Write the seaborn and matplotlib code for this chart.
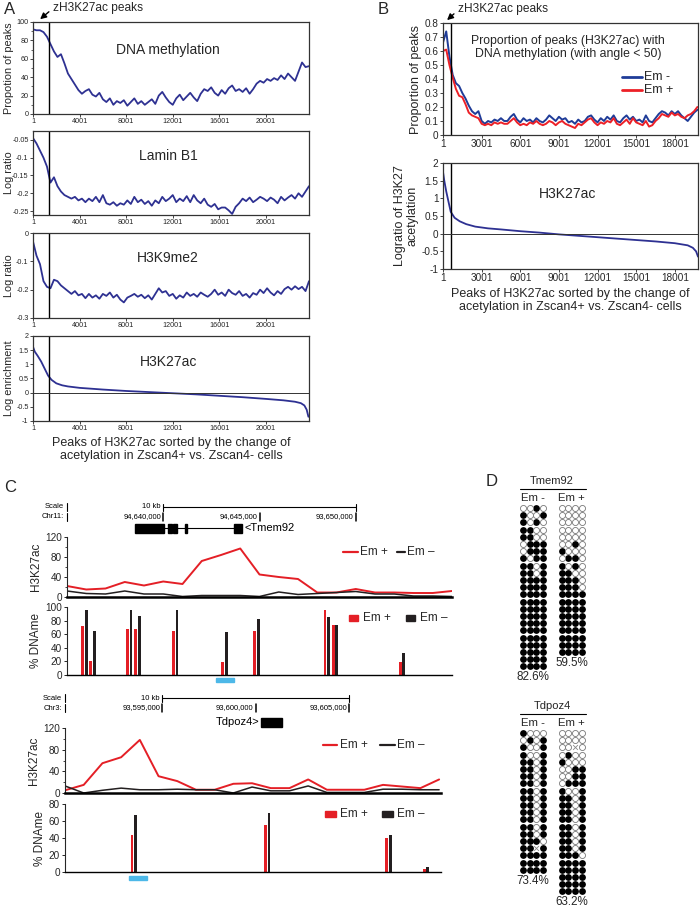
import numpy as np
import matplotlib
matplotlib.use("Agg")
import matplotlib.pyplot as plt
import matplotlib.transforms as mtransforms
from matplotlib.patches import Rectangle
import seaborn as sns

# ---------------- data: panel A (peaks ranked by H3K27ac change) ----------------
peaks_a = np.arange(1, 23702, 300)          # 80 ranks
dna_meth = [92, 91, 91, 89, 84, 76, 68, 62, 65, 55,
            44, 38, 32, 26, 22, 25, 27, 21, 19, 23,
            16, 13, 17, 10, 14, 12, 15, 9, 13, 17,
            11, 14, 10, 13, 16, 11, 20, 24, 18, 13,
            10, 17, 21, 15, 19, 23, 18, 14, 22, 27,
            25, 29, 23, 20, 26, 22, 28, 31, 25, 27,
            24, 28, 22, 27, 33, 36, 34, 38, 36, 39,
            37, 42, 38, 44, 40, 36, 46, 56, 51, 52]
lamin_b1 = [-0.045, -0.06, -0.08, -0.10, -0.125, -0.17, -0.155, -0.18, -0.195, -0.205,
            -0.21, -0.215, -0.21, -0.22, -0.215, -0.225, -0.215, -0.222, -0.21, -0.225,
            -0.205, -0.228, -0.232, -0.225, -0.235, -0.228, -0.232, -0.22, -0.23, -0.21,
            -0.225, -0.218, -0.23, -0.222, -0.235, -0.22, -0.228, -0.21, -0.222, -0.215,
            -0.205, -0.225, -0.215, -0.222, -0.208, -0.225, -0.205, -0.22, -0.228, -0.215,
            -0.232, -0.238, -0.23, -0.245, -0.24, -0.24, -0.248, -0.258, -0.238, -0.228,
            -0.215, -0.222, -0.212, -0.225, -0.218, -0.21, -0.215, -0.222, -0.212, -0.218,
            -0.228, -0.21, -0.22, -0.212, -0.205, -0.215, -0.2, -0.21, -0.195, -0.18]
h3k9me2 = [-0.03, -0.08, -0.11, -0.17, -0.19, -0.195, -0.165, -0.17, -0.185, -0.195,
           -0.205, -0.215, -0.205, -0.22, -0.215, -0.23, -0.215, -0.228, -0.22, -0.232,
           -0.215, -0.222, -0.21, -0.228, -0.218, -0.235, -0.245, -0.228, -0.222, -0.215,
           -0.225, -0.218, -0.23, -0.22, -0.235, -0.215, -0.195, -0.21, -0.205, -0.222,
           -0.215, -0.232, -0.22, -0.228, -0.21, -0.222, -0.215, -0.225, -0.21, -0.218,
           -0.225, -0.215, -0.2, -0.218, -0.21, -0.222, -0.2, -0.212, -0.218, -0.205,
           -0.222, -0.215, -0.228, -0.212, -0.218, -0.2, -0.212, -0.195, -0.21, -0.22,
           -0.205, -0.215, -0.198, -0.19, -0.2, -0.188, -0.198, -0.19, -0.205, -0.17]
a_sorted_rank = [1, 150, 400, 700, 1000, 1300, 1600, 2000, 2500, 3000, 4000, 5000, 6000,
                 8000, 10000, 12000, 14000, 16000, 18000, 20000, 21500, 22500, 23000,
                 23300, 23500, 23650]
a_sorted_ac = [1.62, 1.45, 1.3, 1.1, 0.85, 0.6, 0.45, 0.33, 0.26, 0.22, 0.17, 0.14, 0.11,
               0.06, 0.02, -0.02, -0.06, -0.11, -0.16, -0.22, -0.27, -0.32, -0.37,
               -0.45, -0.6, -0.85]
a_xticks = [1, 4001, 8001, 12001, 16001, 20001]
a_cut = 1360

# ---------------- data: panel B ----------------
peaks_b = np.arange(1, 19752, 250)          # 80 ranks
b_em_minus = [0.66, 0.74, 0.56, 0.43, 0.37, 0.35, 0.30, 0.26, 0.21, 0.17,
              0.15, 0.17, 0.10, 0.08, 0.10, 0.09, 0.11, 0.10, 0.12, 0.10,
              0.10, 0.13, 0.15, 0.11, 0.09, 0.12, 0.10, 0.11, 0.09, 0.12,
              0.10, 0.09, 0.11, 0.14, 0.12, 0.10, 0.13, 0.11, 0.12, 0.09,
              0.10, 0.08, 0.11, 0.09, 0.10, 0.13, 0.14, 0.11, 0.09, 0.12,
              0.10, 0.13, 0.11, 0.14, 0.10, 0.09, 0.12, 0.14, 0.11, 0.13,
              0.10, 0.11, 0.09, 0.14, 0.10, 0.09, 0.12, 0.15, 0.17, 0.16,
              0.14, 0.17, 0.15, 0.17, 0.14, 0.12, 0.10, 0.13, 0.16, 0.18]
b_em_plus = [0.60, 0.61, 0.50, 0.41, 0.33, 0.28, 0.27, 0.22, 0.16, 0.14,
             0.13, 0.12, 0.08, 0.07, 0.08, 0.07, 0.09, 0.08, 0.09, 0.08,
             0.08, 0.10, 0.12, 0.09, 0.07, 0.08, 0.07, 0.09, 0.08, 0.10,
             0.08, 0.07, 0.08, 0.10, 0.09, 0.07, 0.09, 0.10, 0.08, 0.07,
             0.06, 0.05, 0.08, 0.07, 0.09, 0.11, 0.12, 0.09, 0.07, 0.09,
             0.08, 0.10, 0.09, 0.12, 0.08, 0.07, 0.09, 0.11, 0.08, 0.12,
             0.09, 0.08, 0.07, 0.10, 0.06, 0.07, 0.10, 0.12, 0.15, 0.14,
             0.13, 0.16, 0.14, 0.15, 0.13, 0.12, 0.14, 0.15, 0.17, 0.20]
b_sorted_rank = [1, 100, 250, 400, 600, 900, 1300, 1800, 2500, 3500, 4500, 6000, 7500,
                 9000, 10500, 12000, 13500, 15000, 16500, 18000, 19000, 19400, 19650, 19800]
b_sorted_ac = [1.75, 1.5, 1.2, 0.95, 0.62, 0.45, 0.35, 0.27, 0.2, 0.15, 0.12, 0.07, 0.03,
               -0.02, -0.06, -0.1, -0.14, -0.18, -0.22, -0.27, -0.33, -0.4, -0.5, -0.65]
b_xticks = [1, 3001, 6001, 9001, 12001, 15001, 18001]
b_cut = 600

# ---------------- data: panel C (genome tracks) ----------------
c1_window = (94635000, 94655000)
c1_ac_em_plus = [22, 15, 17, 30, 23, 31, 26, 72, 84, 97, 45, 40, 36, 9, 9, 16, 9, 9, 8, 8, 12]
c1_ac_em_minus = [12, 7, 6, 12, 6, 6, 1, 3, 3, 3, 1, 10, 5, 7, 9, 11, 6, 6, 2, 2, 1]
c1_cpg = [94635910, 94636320, 94638230, 94638670, 94640620, 94643180, 94644830,
          94648500, 94648920, 94652400]
c1_me_em_plus = [72, 21, 67, 68, 64, 19, 64, 95, 73, 19]
c1_me_em_minus = [95, 65, 95, 87, 95, 63, 82, 86, 73, 33]
c1_amplicon = (94642740, 94643680)
c1_scale = [94640000, 94645000, 94650000]
c1_scale_labels = ["94,640,000", "94,645,000", "93,650,000"]
tmem92_exons = [(94638530, 94640040), (94640250, 94640450), (94640500, 94640710),
                (94641150, 94641220), (94643680, 94644090)]
tmem92_span = (94640040, 94643680)

c2_window = (93589800, 93609900)
c2_ac_em_plus = [5, 15, 55, 66, 98, 31, 22, 6, 6, 17, 18, 9, 9, 25, 6, 6, 6, 15, 12, 9, 25]
c2_ac_em_minus = [13, 0, 5, 9, 6, 6, 7, 6, 6, 0, 11, 4, 4, 13, 1, 1, 1, 7, 7, 6, 6]
c2_cpg = [93593480, 93600610, 93607090, 93609100]
c2_me_em_plus = [43, 55, 40, 3]
c2_me_em_minus = [67, 69, 43, 6]
c2_amplicon = (93593220, 93594190)
c2_scale = [93595000, 93600000, 93605000]
c2_scale_labels = ["93,595,000", "93,600,000", "93,605,000"]
tdpoz4_exons = [(93600280, 93601400)]

# ---------------- data: panel D (bisulfite clones, 1 = methylated, x = missing) ----------------
tmem92_em_minus = ["0010", "1001", "1010", "1100", "1100", "0111", "0111", "1011",
                   "1101", "1101", "1111", "1111", "1111", "1111", "1111", "1111",
                   "1111", "1111", "1111", "1111", "1111", "1111", "1111"]
tmem92_em_plus = ["0000", "0000", "0000", "0000", "0000", "0010", "1000", "0110",
                  "1010", "1100", "1110", "1110", "1111", "1111", "1111", "1111",
                  "1111", "1111", "1111", "1111", "1111"]
tdpoz4_em_minus = ["1000", "0101", "1001", "1001", "1101", "1101", "1101", "1101",
                   "1101", "1101", "1101", "1101", "1101", "1101", "1101", "1110",
                   "11x1", "1111", "1111", "1111"]
tdpoz4_em_plus = ["0000", "0000", "00x0", "0100", "1000", "0011", "0011", "0111",
                  "1001", "1101", "1101", "1101", "1101", "1101", "1101", "1101",
                  "1101", "1110", "1111", "1111", "1111", "1111", "1111"]
tmem92_pct = ["82.6%", "59.5%"]
tdpoz4_pct = ["73.4%", "63.2%"]

# ---------------- style ----------------
sns.set_theme(style="ticks")
plt.rcParams["font.family"] = ["Liberation Sans", "DejaVu Sans"]
plt.rcParams["axes.unicode_minus"] = False

NAVY = "#2e3192"
BBLUE = "#1f3c98"
BRED = "#ec2027"
RED = "#e41f26"
BLK = "#231f20"
SKY = "#4db8e8"

W, H = 700, 910
fig = plt.figure(figsize=(W / 100, H / 100), dpi=100)


def box(l, t, r, b):
    return fig.add_axes([l / W, 1 - b / H, (r - l) / W, (b - t) / H])


ov = fig.add_axes([0, 0, 1, 1], zorder=10)
ov.axis("off")


def lab(v):
    return f"{v:g}"


def rank_axes(ax, ylim, yticks, ylabel, xmax, xticks, cut, fs_tick, fs_lab, zero=False):
    ax.set_xlim(1, xmax)
    ax.set_ylim(*ylim)
    ax.set_yticks(yticks)
    ax.set_yticklabels([lab(t) for t in yticks])
    ax.set_xticks(xticks)
    ax.set_xticklabels([str(t) for t in xticks])
    ax.axvline(cut, color="black", lw=1.0)
    if zero:
        ax.axhline(0, color="#333333", lw=0.7)
    ax.set_ylabel(ylabel, fontsize=fs_lab, labelpad=2)
    ax.set_xlabel("")
    ax.tick_params(labelsize=fs_tick, length=2, width=0.6, pad=1.2)
    for s in ax.spines.values():
        s.set_linewidth(0.9)
        s.set_color("#333333")


# ---------------- panel A ----------------
a_specs = [
    ((22, 114), peaks_a, dna_meth, (0, 100), [0, 20, 40, 60, 80, 100], "Propotion of peaks", "DNA methylation", False),
    ((131, 215), peaks_a, lamin_b1, (-0.261, -0.025), [-0.25, -0.2, -0.15, -0.1, -0.05], "Log ratio", "Lamin B1", False),
    ((233, 318), peaks_a, h3k9me2, (-0.3, 0), [-0.3, -0.2, -0.1, 0], "Log ratio", "H3K9me2", False),
    ((336, 421), a_sorted_rank, a_sorted_ac, (-1, 2), [-1, -0.5, 0, 0.5, 1, 1.5, 2], "Log enrichment", "H3K27ac", True),
]
for (top, bot), xs, ys, ylim, yt, ylabel, title, zero in a_specs:
    ax = box(33, top, 309, bot)
    sns.lineplot(x=xs, y=ys, ax=ax, color=NAVY, lw=1.3)
    rank_axes(ax, ylim, yt, ylabel, 23700, a_xticks, a_cut, 5.2, 7.8, zero)
    ax.yaxis.set_label_coords(-0.07, 0.5)
    ax.text(0.49, 0.70, title, transform=ax.transAxes, ha="center", va="center", fontsize=10)
    if title == "DNA methylation":
        ax.set_yticks(np.arange(10, 100, 20), minor=True)
        ax.tick_params(which="minor", length=1.5, width=0.5)
ax.set_xlabel("Peaks of H3K27ac sorted by the change of\nacetylation in Zscan4+ vs. Zscan4- cells",
              fontsize=9, labelpad=3, linespacing=1.1)

# ---------------- panel B ----------------
axb1 = box(443, 23, 698, 135)
sns.lineplot(x=peaks_b, y=b_em_minus, ax=axb1, color=BBLUE, lw=1.4)
sns.lineplot(x=peaks_b, y=b_em_plus, ax=axb1, color=BRED, lw=1.4)
rank_axes(axb1, (0, 0.8), [0, 0.1, 0.2, 0.3, 0.4, 0.5, 0.6, 0.7, 0.8], "Proportion of peaks",
          19800, b_xticks, b_cut, 7.2, 9)
axb1.text(0.49, 0.78, "Proportion of peaks (H3K27ac) with\nDNA methylation (with angle < 50)",
          transform=axb1.transAxes, ha="center", va="center", fontsize=8.8, linespacing=1.15)
for yy, col, name in [(0.52, BBLUE, "Em -"), (0.40, BRED, "Em +")]:
    axb1.plot([0.70, 0.78], [yy, yy], transform=axb1.transAxes, color=col, lw=2)
    axb1.text(0.79, yy, name, transform=axb1.transAxes, va="center", fontsize=9)

axb2 = box(443, 163, 698, 269)
sns.lineplot(x=b_sorted_rank, y=b_sorted_ac, ax=axb2, color=NAVY, lw=1.3)
rank_axes(axb2, (-1, 2), [-1, -0.5, 0, 0.5, 1, 1.5, 2], "Logratio of H3K27\nacetylation",
          19800, b_xticks, b_cut, 7.2, 9, zero=True)
axb2.yaxis.label.set_linespacing(1.0)
axb2.text(0.49, 0.71, "H3K27ac", transform=axb2.transAxes, ha="center", va="center", fontsize=10)
axb2.set_xlabel("Peaks of H3K27ac sorted by the change of\nacetylation in Zscan4+ vs. Zscan4- cells",
                fontsize=9, labelpad=3, linespacing=1.1)


# ---------------- panel C ----------------
def genome_block(px_l, px_r, ac_box, me_box, window, ac_plus, ac_minus, cpg, me_plus, me_minus,
                 me_top, me_ticks, amplicon, chrom, scale, scale_labels, exons, span,
                 gene, gene_right, y_scale, y_chr, y_gene, y_amp, leg_ac, leg_me):
    ax_ac = box(px_l, ac_box[0], px_r, ac_box[1])
    ax_me = box(px_l, me_box[0], px_r, me_box[1])
    bins = np.arange(window[0], window[0] + 1000 * len(ac_plus), 1000)
    sns.lineplot(x=bins, y=ac_plus, ax=ax_ac, color=RED, lw=1.4)
    sns.lineplot(x=bins, y=ac_minus, ax=ax_ac, color=BLK, lw=1.1)
    ax_ac.set_ylim(0, 120)
    ax_ac.set_yticks([0, 40, 80, 120])
    ax_ac.set_yticks([20, 60, 100], minor=True)
    ax_ac.set_ylabel("H3K27ac", fontsize=8.5, labelpad=2)
    cpg = np.array(cpg)
    ax_me.bar(cpg - 95, me_plus, width=150, color=RED, linewidth=0)
    ax_me.bar(cpg + 95, me_minus, width=150, color=BLK, linewidth=0)
    ax_me.set_ylim(0, me_top)
    ax_me.set_yticks(me_ticks)
    ax_me.set_ylabel("% DNAme", fontsize=8.5, labelpad=2)
    for a in (ax_ac, ax_me):
        a.set_xlim(*window)
        a.set_xticks([])
        a.set_xlabel("")
        sns.despine(ax=a)
        a.spines["left"].set_linewidth(0.8)
        a.tick_params(axis="y", labelsize=7.2, length=2.5, width=0.7, pad=1)
        a.tick_params(axis="y", which="minor", length=1.5, width=0.6)
    ax_ac.spines["bottom"].set_linewidth(1.8)
    ax_ac.spines["bottom"].set_color("black")
    ax_me.spines["bottom"].set_linewidth(1.0)
    ax_me.spines["bottom"].set_color("black")

    # legends
    (r0, r1, rt, k0, k1, kt, ly) = leg_ac
    ax_ac.plot([r0, r1], [ly, ly], transform=ax_ac.transAxes, color=RED, lw=1.6, clip_on=False)
    ax_ac.text(rt, ly, "Em +", transform=ax_ac.transAxes, va="center", fontsize=8.5)
    ax_ac.plot([k0, k1], [ly, ly], transform=ax_ac.transAxes, color=BLK, lw=1.6, clip_on=False)
    ax_ac.text(kt, ly, "Em \u2013", transform=ax_ac.transAxes, va="center", fontsize=8.5)
    (r0, r1, rt, k0, k1, kt, ly) = leg_me
    hh = 6 / (me_box[1] - me_box[0])
    ax_me.add_patch(Rectangle((r0, ly - hh / 2), r1 - r0, hh, transform=ax_me.transAxes, color=RED, clip_on=False))
    ax_me.text(rt, ly, "Em +", transform=ax_me.transAxes, va="center", fontsize=8.5)
    ax_me.add_patch(Rectangle((k0, ly - hh / 2), k1 - k0, hh, transform=ax_me.transAxes, color=BLK, clip_on=False))
    ax_me.text(kt, ly, "Em \u2013", transform=ax_me.transAxes, va="center", fontsize=8.5)

    # scale / coordinates / gene model (x in genome, y in page pixels)
    T = mtransforms.blended_transform_factory(ax_ac.transData, ov.transData)
    kw = dict(transform=T, clip_on=False, color="black")
    fs = 5.5
    x0 = window[0]
    ax_ac.text(x0 - 150, y_scale, "Scale", ha="right", va="center", fontsize=fs, **kw)
    ax_ac.text(x0 - 150, y_chr, chrom, ha="right", va="center", fontsize=fs, **kw)
    for yy in (y_scale, y_chr):
        ax_ac.plot([x0, x0], [yy - 4, yy + 4], lw=0.8, **kw)
    ax_ac.text(scale[0] - 150, y_scale, "10 kb", ha="right", va="center", fontsize=fs, **kw)
    ax_ac.plot([scale[0], scale[-1]], [y_scale, y_scale], lw=0.8, **kw)
    for sx in (scale[0], scale[-1]):
        ax_ac.plot([sx, sx], [y_scale - 3.5, y_scale + 3.5], lw=0.8, **kw)
    for sx, sl in zip(scale, scale_labels):
        ax_ac.text(sx - 120, y_chr, sl, ha="right", va="center", fontsize=fs, **kw)
        ax_ac.plot([sx, sx], [y_chr - 4, y_chr + 4], lw=1.1, **kw)
    if span is not None:
        ax_ac.plot(list(span), [y_gene, y_gene], lw=0.8, **kw)
    for e0, e1 in exons:
        ax_ac.add_patch(Rectangle((e0, y_gene - 4.5), e1 - e0, 9, transform=T, color="black", clip_on=False))
    if gene_right:
        ax_ac.text(exons[-1][1] + 150, y_gene, gene, ha="left", va="center", fontsize=8, **kw)
    else:
        ax_ac.text(exons[0][0] - 100, y_gene, gene, ha="right", va="center", fontsize=8, **kw)

    Tm = mtransforms.blended_transform_factory(ax_me.transData, ov.transData)
    ax_me.add_patch(Rectangle((amplicon[0], y_amp - 2), amplicon[1] - amplicon[0], 4,
                              transform=Tm, color=SKY, clip_on=False))
    ax_ac.set_xlim(*window)
    ax_me.set_xlim(*window)


genome_block(67, 452, (537, 597), (607, 675), c1_window, c1_ac_em_plus, c1_ac_em_minus,
             c1_cpg, c1_me_em_plus, c1_me_em_minus, 100, [0, 20, 40, 60, 80, 100],
             c1_amplicon, "Chr11:", c1_scale, c1_scale_labels, tmem92_exons, tmem92_span,
             "<Tmem92", True, 507, 517, 528, 680,
             (0.717, 0.756, 0.761, 0.857, 0.878, 0.883, 0.75),
             (0.732, 0.756, 0.769, 0.881, 0.904, 0.917, 0.84))
genome_block(65, 441, (728, 793), (804, 872), c2_window, c2_ac_em_plus, c2_ac_em_minus,
             c2_cpg, c2_me_em_plus, c2_me_em_minus, 80, [0, 20, 40, 60, 80],
             c2_amplicon, "Chr3:", c2_scale, c2_scale_labels, tdpoz4_exons, None,
             "Tdpoz4>", False, 698, 708, 722, 878,
             (0.686, 0.723, 0.731, 0.838, 0.878, 0.883, 0.74),
             (0.691, 0.721, 0.731, 0.843, 0.872, 0.883, 0.85))


# ---------------- panel D ----------------
def clones(gene, title_y, patterns, pcts):
    dx, dy = 6.8, 7.2
    col0 = [522.7, 561.5]
    row0 = title_y + 27
    ov.text(552, title_y, gene, ha="center", va="center", fontsize=8)
    ov.plot([520, 586], [title_y + 8, title_y + 8], color="black", lw=0.8)
    for c0, name, pat, pct in zip(col0, ["Em -", "Em +"], patterns, pcts):
        xc = c0 + 1.5 * dx
        ov.text(xc, title_y + 17, name, ha="center", va="center", fontsize=8.2)
        full, empty, miss = [], [], []
        for i, row in enumerate(pat):
            for j, ch in enumerate(row):
                p = (c0 + j * dx, row0 + i * dy)
                {"1": full, "0": empty, "x": miss}[ch].append(p)
        if full:
            ov.scatter(*zip(*full), s=24, color="black", linewidths=0)
        if empty:
            ov.scatter(*zip(*empty), s=19, facecolors="white", edgecolors="#777777", linewidths=0.6)
        if miss:
            ov.scatter(*zip(*miss), s=12, marker="x", color="#888888", linewidths=0.6)
        ov.text(xc, row0 + (len(pat) - 1) * dy + 11, pct, ha="center", va="center", fontsize=8.4)


clones("Tmem92", 481, [tmem92_em_minus, tmem92_em_plus], tmem92_pct)
clones("Tdpoz4", 706, [tdpoz4_em_minus, tdpoz4_em_plus], tdpoz4_pct)

# ---------------- letters & arrows ----------------
for x, y, s in [(4, 9, "A"), (378, 9, "B"), (4, 488, "C"), (486, 482, "D")]:
    ov.text(x, y, s, fontsize=12, ha="left", va="center")
ov.text(53, 8, "zH3K27ac peaks", fontsize=8.6, ha="left", va="center")
ov.annotate("", xy=(38, 21), xytext=(51, 10),
            arrowprops=dict(arrowstyle="-|>", color="black", lw=1.0, mutation_scale=9))
ov.text(458, 9, "zH3K27ac peaks", fontsize=8.6, ha="left", va="center")
ov.annotate("", xy=(445, 22), xytext=(456, 12),
            arrowprops=dict(arrowstyle="-|>", color="black", lw=1.0, mutation_scale=9))

ov.set_xlim(0, W)
ov.set_ylim(H, 0)

fig.savefig("out.png", dpi=100)
